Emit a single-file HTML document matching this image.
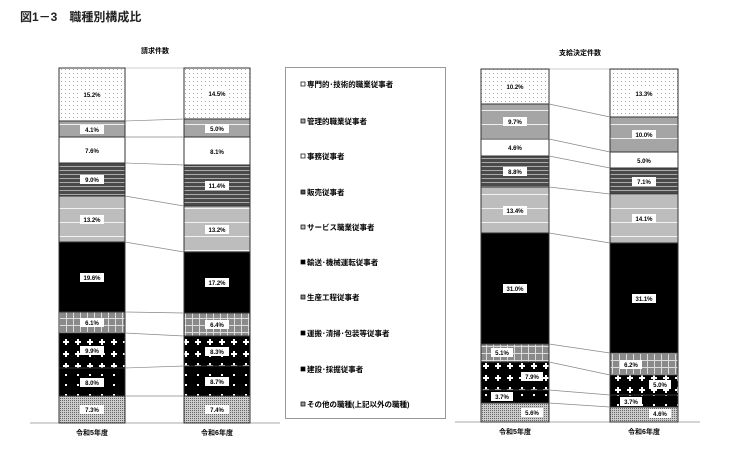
<!DOCTYPE html>
<html><head><meta charset="utf-8"><style>
body{margin:0;background:#fff;}
text{font-family:"Liberation Sans","Noto Sans CJK JP",sans-serif;}
</style></head><body>
<svg width="739" height="453" viewBox="0 0 739 453" xmlns="http://www.w3.org/2000/svg">
<defs>
<pattern id="p1" width="4" height="4" patternUnits="userSpaceOnUse"><rect width="4" height="4" fill="#fff"/><rect x="1" y="1" width="1" height="1" fill="#aaa"/></pattern>
<pattern id="p2" width="6" height="14" patternUnits="userSpaceOnUse"><rect width="6" height="14" fill="#a5a5a5"/><rect y="12" width="6" height="1" fill="#eee"/></pattern>
<pattern id="p4" width="4" height="4" patternUnits="userSpaceOnUse"><rect width="4" height="4" fill="#4a4a4a"/><rect y="2" width="4" height="1" fill="#aaa"/></pattern>
<pattern id="p5" width="6" height="14" patternUnits="userSpaceOnUse"><rect width="6" height="14" fill="#bdbdbd"/><rect y="12" width="6" height="1" fill="#f2f2f2"/></pattern>
<pattern id="p7" width="7" height="7" patternUnits="userSpaceOnUse"><rect width="7" height="7" fill="#8a8a8a"/><rect x="3" width="1" height="7" fill="#ddd"/><rect y="3" width="7" height="1" fill="#ddd"/></pattern>
<pattern id="p8" width="12" height="12" patternUnits="userSpaceOnUse"><rect width="12" height="12" fill="#000"/><rect x="5" y="3" width="2" height="6" fill="#fff"/><rect x="3" y="5" width="6" height="2" fill="#fff"/></pattern>
<pattern id="p9" width="12" height="10" patternUnits="userSpaceOnUse"><rect width="12" height="10" fill="#000"/><rect x="5" y="4" width="2" height="2" fill="#fff"/></pattern>
<pattern id="p10" width="2" height="2" patternUnits="userSpaceOnUse"><rect width="2" height="2" fill="#ccc"/><rect width="1" height="1" fill="#666"/></pattern>
</defs>
<text x="20" y="21" font-size="12" font-weight="bold" fill="#222">図1－3　職種別構成比</text>
<text x="155" y="53" font-size="7" font-weight="bold" text-anchor="middle">請求件数</text>
<text x="580" y="55" font-size="7" font-weight="bold" text-anchor="middle">支給決定件数</text>

<line x1="30" y1="423" x2="280" y2="423" stroke="#aaa"/>
<line x1="455" y1="422" x2="700" y2="422" stroke="#aaa"/>
<line x1="125" y1="68" x2="184" y2="68" stroke="#ccc"/>
<line x1="549" y1="69" x2="610" y2="69" stroke="#ccc"/>

<g stroke="#333" stroke-width="1">
<rect x="59" y="68" width="66" height="53" fill="url(#p1)"/>
<rect x="59" y="121" width="66" height="16" fill="url(#p2)"/>
<rect x="59" y="137" width="66" height="26" fill="#fff"/>
<rect x="59" y="163" width="66" height="33" fill="url(#p4)"/>
<rect x="59" y="196" width="66" height="46" fill="url(#p5)"/>
<rect x="59" y="242" width="66" height="70" fill="#000"/>
<rect x="59" y="312" width="66" height="21" fill="url(#p7)"/>
<rect x="59" y="333" width="66" height="35" fill="url(#p8)"/>
<rect x="59" y="368" width="66" height="28" fill="url(#p9)"/>
<rect x="59" y="396" width="66" height="27" fill="url(#p10)"/>
<rect x="184" y="68" width="66" height="51" fill="url(#p1)"/>
<rect x="184" y="119" width="66" height="18" fill="url(#p2)"/>
<rect x="184" y="137" width="66" height="28" fill="#fff"/>
<rect x="184" y="165" width="66" height="41" fill="url(#p4)"/>
<rect x="184" y="206" width="66" height="46" fill="url(#p5)"/>
<rect x="184" y="252" width="66" height="61" fill="#000"/>
<rect x="184" y="313" width="66" height="23" fill="url(#p7)"/>
<rect x="184" y="336" width="66" height="30" fill="url(#p8)"/>
<rect x="184" y="366" width="66" height="30" fill="url(#p9)"/>
<rect x="184" y="396" width="66" height="27" fill="url(#p10)"/>
<rect x="481" y="69" width="68" height="35" fill="url(#p1)"/>
<rect x="481" y="104" width="68" height="35" fill="url(#p2)"/>
<rect x="481" y="139" width="68" height="17" fill="#fff"/>
<rect x="481" y="156" width="68" height="31" fill="url(#p4)"/>
<rect x="481" y="187" width="68" height="46" fill="url(#p5)"/>
<rect x="481" y="233" width="68" height="111" fill="#000"/>
<rect x="481" y="344" width="68" height="18" fill="url(#p7)"/>
<rect x="481" y="362" width="68" height="28" fill="url(#p8)"/>
<rect x="481" y="390" width="68" height="13" fill="url(#p9)"/>
<rect x="481" y="403" width="68" height="19" fill="url(#p10)"/>
<rect x="610" y="69" width="68" height="48" fill="url(#p1)"/>
<rect x="610" y="117" width="68" height="35" fill="url(#p2)"/>
<rect x="610" y="152" width="68" height="16" fill="#fff"/>
<rect x="610" y="168" width="68" height="26" fill="url(#p4)"/>
<rect x="610" y="194" width="68" height="49" fill="url(#p5)"/>
<rect x="610" y="243" width="68" height="110" fill="#000"/>
<rect x="610" y="353" width="68" height="22" fill="url(#p7)"/>
<rect x="610" y="375" width="68" height="20" fill="url(#p8)"/>
<rect x="610" y="395" width="68" height="12" fill="url(#p9)"/>
<rect x="610" y="407" width="68" height="15" fill="url(#p10)"/>
</g>

<g stroke="#888" stroke-width="0.7">
<line x1="125" y1="121" x2="184" y2="119"/><line x1="125" y1="137" x2="184" y2="137"/>
<line x1="125" y1="163" x2="184" y2="165"/><line x1="125" y1="196" x2="184" y2="206"/>
<line x1="125" y1="242" x2="184" y2="252"/><line x1="125" y1="312" x2="184" y2="313"/>
<line x1="125" y1="333" x2="184" y2="336"/><line x1="125" y1="368" x2="184" y2="366"/>
<line x1="125" y1="396" x2="184" y2="396"/>
<line x1="549" y1="104" x2="610" y2="117"/><line x1="549" y1="139" x2="610" y2="152"/>
<line x1="549" y1="156" x2="610" y2="168"/><line x1="549" y1="187" x2="610" y2="194"/>
<line x1="549" y1="233" x2="610" y2="243"/><line x1="549" y1="344" x2="610" y2="353"/>
<line x1="549" y1="362" x2="610" y2="375"/><line x1="549" y1="390" x2="610" y2="395"/>
<line x1="549" y1="403" x2="610" y2="407"/>
</g>

<g font-size="6" font-weight="bold" text-anchor="middle">
<g fill="#fff">
<rect x="80" y="90" width="24" height="9"/><rect x="80" y="125" width="24" height="9"/><rect x="80" y="146" width="24" height="9"/><rect x="80" y="175" width="24" height="9"/><rect x="80" y="215" width="24" height="9"/><rect x="80" y="273" width="24" height="9"/><rect x="80" y="318" width="24" height="9"/><rect x="80" y="346" width="24" height="9"/><rect x="80" y="378" width="24" height="9"/><rect x="80" y="405" width="24" height="9"/>
<rect x="205" y="89" width="24" height="9"/><rect x="205" y="124" width="24" height="9"/><rect x="205" y="147" width="24" height="9"/><rect x="205" y="181" width="24" height="9"/><rect x="205" y="225" width="24" height="9"/><rect x="205" y="278" width="24" height="9"/><rect x="205" y="320" width="24" height="9"/><rect x="205" y="347" width="24" height="9"/><rect x="205" y="377" width="24" height="9"/><rect x="205" y="405" width="24" height="9"/>
<rect x="503" y="82" width="24" height="9"/><rect x="503" y="117" width="24" height="9"/><rect x="503" y="143" width="24" height="9"/><rect x="503" y="167" width="24" height="9"/><rect x="503" y="206" width="24" height="9"/><rect x="503" y="284" width="24" height="9"/><rect x="491" y="348" width="22" height="9"/><rect x="521" y="372" width="22" height="9"/><rect x="491" y="392" width="22" height="9"/><rect x="521" y="408" width="22" height="9"/>
<rect x="632" y="89" width="24" height="9"/><rect x="632" y="130" width="24" height="9"/><rect x="632" y="156" width="24" height="9"/><rect x="632" y="177" width="24" height="9"/><rect x="632" y="214" width="24" height="9"/><rect x="632" y="294" width="24" height="9"/><rect x="620" y="360" width="22" height="9"/><rect x="649" y="380" width="22" height="9"/><rect x="620" y="397" width="22" height="9"/><rect x="649" y="409" width="22" height="9"/>
</g>
<g fill="#000">
<text x="92" y="97">15.2%</text><text x="92" y="132">4.1%</text><text x="92" y="153">7.6%</text><text x="92" y="182">9.0%</text><text x="92" y="222">13.2%</text><text x="92" y="280">19.6%</text><text x="92" y="325">6.1%</text><text x="92" y="353">9.9%</text><text x="92" y="385">8.0%</text><text x="92" y="412">7.3%</text>
<text x="217" y="96">14.5%</text><text x="217" y="131">5.0%</text><text x="217" y="154">8.1%</text><text x="217" y="188">11.4%</text><text x="217" y="232">13.2%</text><text x="217" y="285">17.2%</text><text x="217" y="327">6.4%</text><text x="217" y="354">8.3%</text><text x="217" y="384">8.7%</text><text x="217" y="412">7.4%</text>
<text x="515" y="89">10.2%</text><text x="515" y="124">9.7%</text><text x="515" y="150">4.6%</text><text x="515" y="174">8.8%</text><text x="515" y="213">13.4%</text><text x="515" y="291">31.0%</text><text x="502" y="355">5.1%</text><text x="532" y="379">7.9%</text><text x="502" y="399">3.7%</text><text x="532" y="415">5.6%</text>
<text x="644" y="96">13.3%</text><text x="644" y="137">10.0%</text><text x="644" y="163">5.0%</text><text x="644" y="184">7.1%</text><text x="644" y="221">14.1%</text><text x="644" y="301">31.1%</text><text x="631" y="367">6.2%</text><text x="660" y="387">5.0%</text><text x="631" y="404">3.7%</text><text x="660" y="416">4.6%</text>
</g>
</g>

<g font-size="7" font-weight="bold" text-anchor="middle">
<text x="92" y="435">令和5年度</text><text x="217" y="435">令和6年度</text>
<text x="515" y="434">令和5年度</text><text x="644" y="434">令和6年度</text>
</g>

<rect x="285.5" y="67.5" width="160" height="351" fill="#fff" stroke="#999"/>
<g font-size="7.5" font-weight="bold" fill="#000">
<rect x="301" y="82" width="4" height="4" fill="#fff" stroke="#000" stroke-width="0.7"/><text x="307" y="87">専門的･技術的職業従事者</text>
<rect x="301" y="119" width="4" height="4" fill="#aaa" stroke="#000" stroke-width="0.7"/><text x="307" y="124">管理的職業従事者</text>
<rect x="301" y="154" width="4" height="4" fill="#fff" stroke="#000" stroke-width="0.7"/><text x="307" y="159">事務従事者</text>
<rect x="301" y="190" width="4" height="4" fill="#555" stroke="#000" stroke-width="0.7"/><text x="307" y="195">販売従事者</text>
<rect x="301" y="225" width="4" height="4" fill="#bbb" stroke="#000" stroke-width="0.7"/><text x="307" y="230">サービス職業従事者</text>
<rect x="301" y="260" width="4" height="4" fill="#000" stroke="#000" stroke-width="0.7"/><text x="307" y="265">輸送･機械運転従事者</text>
<rect x="301" y="295" width="4" height="4" fill="#888" stroke="#000" stroke-width="0.7"/><text x="307" y="300">生産工程従事者</text>
<rect x="301" y="331" width="4" height="4" fill="#000" stroke="#000" stroke-width="0.7"/><text x="307" y="336">運搬･清掃･包装等従事者</text>
<rect x="301" y="367" width="4" height="4" fill="#000" stroke="#000" stroke-width="0.7"/><text x="307" y="372">建設･採掘従事者</text>
<rect x="301" y="402" width="4" height="4" fill="#999" stroke="#000" stroke-width="0.7"/><text x="307" y="407">その他の職種(上記以外の職種)</text>
</g>
</svg>
</body></html>
